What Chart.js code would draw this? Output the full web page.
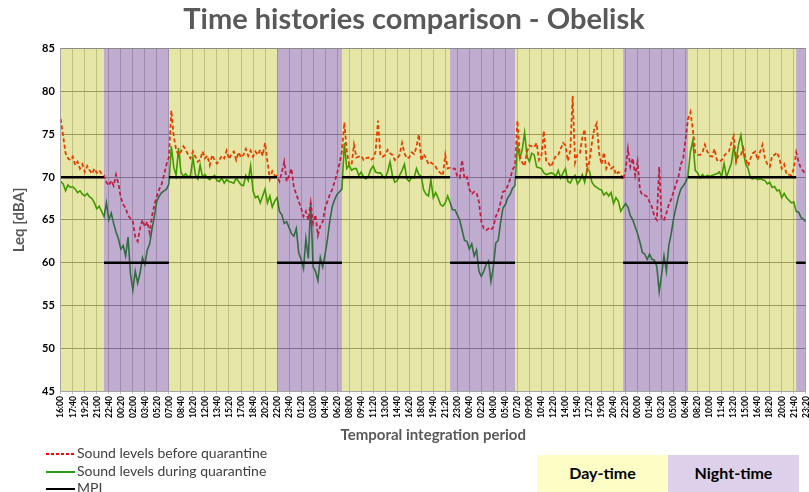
<!DOCTYPE html>
<html>
<head>
<meta charset="utf-8">
<script src="https://cdn.jsdelivr.net/npm/chart.js@4.4.1/dist/chart.umd.min.js"></script>
<style>
  html, body { margin: 0; padding: 0; background: #fff; width: 809px; height: 492px; overflow: hidden; }
  #wrap { position: absolute; left: 0; top: 0; width: 818px; height: 492px; }
  .legend { position: absolute; left: 46px; top: 444px; font-family: Lato, "Open Sans", sans-serif; font-size: 14px; color: #404040; }
  .legend div { height: 17.5px; line-height: 17.5px; white-space: nowrap; }
  .legend svg { vertical-align: middle; margin-right: 2px; }
  .box { position: absolute; top: 455px; height: 37px; width: 131px; font-family: Lato, "Open Sans", sans-serif; font-weight: bold; font-size: 16px; color: #000; text-align: center; line-height: 36px; }
</style>
</head>
<body>
<div id="wrap"><canvas id="myChart" width="818" height="492"></canvas></div>

<div class="legend">
  <div><svg width="29" height="4"><line x1="0" y1="2" x2="29" y2="2" stroke="#ff0000" stroke-width="1.8" stroke-dasharray="3 2"/></svg>Sound levels before quarantine</div>
  <div><svg width="29" height="4"><line x1="0" y1="2" x2="29" y2="2" stroke="#2a9a1a" stroke-width="2"/></svg>Sound levels during quarantine</div>
  <div><svg width="29" height="4"><line x1="0" y1="2" x2="29" y2="2" stroke="#000" stroke-width="2"/></svg>MPL</div>
</div>
<div class="box" style="left:537px;background:#fdfdc6;">Day-time</div>
<div class="box" style="left:668px;background:#ddd0ea;">Night-time</div>

<script>
// tick labels, one every 100 minutes; samples every 20 minutes
const tickLabels = [
  "16:00","17:40","19:20","21:00","22:40","00:20","02:00","03:40","05:20","07:00",
  "08:40","10:20","12:00","13:40","15:20","17:00","18:40","20:20","22:00","23:40",
  "01:20","03:00","04:40","06:20","08:00","09:40","11:20","13:00","14:40","16:20",
  "18:00","19:40","21:20","23:00","00:40","02:20","04:00","05:40","07:20","09:00",
  "10:40","12:20","14:00","15:40","17:20","19:00","20:40","22:20","00:00","01:40",
  "03:20","05:00","06:40","08:20","10:00","11:40","13:20","15:00","16:40","18:20",
  "20:00","21:40","23:20"
];
const stepMinutes = 20;
const stepsPerTick = 5;

const nightStart = "22:00";
const nightEnd = "07:00";
const MPL_DAY = 70;
const MPL_NIGHT = 60;

// Leq [dBA] before quarantine
const beforeQuarantine = [
  76.8,74.8,72.8,72.2,72.0,72.4,71.4,71.8,71.0,71.5,
  70.6,71.3,70.8,70.4,71.0,70.5,70.8,70.4,70.2,69.4,
  69.0,69.6,69.0,70.3,69.2,67.6,66.8,66.4,65.5,65.2,
  64.8,63.0,62.5,64.0,65.0,64.2,64.8,63.5,65.5,66.8,
  67.8,68.6,69.2,70.3,71.5,72.3,77.8,74.8,73.2,72.6,
  73.0,73.6,73.2,72.6,72.2,73.0,72.4,71.8,72.0,73.0,
  72.2,72.5,71.4,72.6,72.0,71.6,72.0,72.5,72.2,73.1,
  72.1,72.7,73.0,72.0,72.9,72.3,72.6,73.3,72.5,73.1,
  72.4,73.0,72.6,73.2,72.5,74.0,71.8,69.8,70.7,70.2,
  70.1,69.5,70.6,71.8,69.5,70.2,71.0,68.8,68.0,67.2,
  66.4,65.4,66.0,65.0,67.0,64.6,65.6,63.2,64.3,64.8,
  66.4,67.2,68.0,68.6,69.5,70.5,71.6,73.0,76.4,73.0,
  71.5,71.4,73.8,72.3,72.4,72.5,72.0,72.2,72.3,72.0,
  72.2,73.0,76.6,72.5,72.4,72.6,73.2,72.8,72.6,72.0,
  72.2,72.6,74.0,72.8,72.2,72.3,72.9,72.7,73.5,75.0,
  71.9,72.7,72.2,71.5,71.7,71.5,71.2,70.7,70.5,70.2,
  72.6,71.0,71.1,71.0,71.0,70.1,69.9,72.0,69.8,70.0,
  68.6,68.0,68.3,68.2,67.1,64.8,64.0,63.8,64.0,63.8,
  64.2,65.4,66.0,67.0,68.3,68.4,69.0,69.8,70.9,71.3,
  76.6,72.5,71.7,71.3,73.0,73.7,73.6,73.5,74.0,72.0,
  72.5,75.4,71.8,71.6,71.2,71.9,72.5,72.6,73.3,74.0,
  73.7,71.9,73.1,79.5,71.7,72.7,72.8,74.6,75.6,70.8,
  71.9,74.0,75.7,76.3,72.8,71.5,72.9,71.0,71.6,71.0,
  71.2,70.3,70.6,70.4,69.7,70.8,73.3,71.2,72.2,70.2,
  71.8,68.5,67.9,67.9,67.7,67.1,66.5,65.4,65.0,71.2,
  65.1,65.0,65.8,66.8,67.4,68.3,69.2,70.0,71.5,72.2,
  74.5,76.8,77.6,75.6,72.9,72.6,72.6,72.9,73.8,73.0,
  72.5,72.4,73.3,72.0,71.8,72.0,72.5,72.8,73.0,74.0,
  74.8,71.8,72.6,72.6,73.4,72.2,71.3,72.2,72.8,73.0,
  72.0,73.0,73.8,72.2,71.5,71.2,72.5,72.6,72.9,72.2,
  71.0,71.5,70.3,70.3,70.2,71.0,72.9,71.8,71.0,70.7,
  70.3
];

// Leq [dBA] during quarantine
const duringQuarantine = [
  69.5,69.2,68.4,69.1,68.8,68.9,68.6,68.2,68.4,68.0,
  67.8,68.1,67.7,67.5,67.0,66.3,66.6,66.0,65.4,67.0,
  65.0,65.8,64.6,63.6,62.8,61.6,62.0,60.8,63.0,58.7,
  56.8,59.0,57.6,58.8,60.6,59.8,61.5,62.2,64.0,65.5,
  67.2,67.8,68.2,68.4,68.6,69.2,73.6,71.2,70.2,73.4,
  70.6,70.1,70.4,70.0,70.2,72.3,70.3,69.8,71.4,70.0,
  70.3,69.9,69.7,70.0,70.2,69.6,69.5,69.9,69.3,69.7,
  69.5,69.4,69.3,69.9,69.5,69.1,69.0,70.2,69.6,71.3,
  68.4,67.6,67.8,67.0,67.8,68.6,67.0,67.8,66.5,67.2,
  67.6,66.0,65.6,64.6,64.8,64.1,63.4,63.1,64.0,61.2,
  60.4,59.3,62.8,60.5,67.0,59.5,59.0,57.9,60.6,59.5,
  61.0,62.8,65.0,66.6,67.4,68.0,68.3,68.6,74.0,71.0,
  71.4,70.8,71.0,71.0,70.2,70.6,70.0,69.8,70.1,70.9,
  71.3,70.6,70.5,70.5,70.1,69.9,70.6,71.8,70.2,69.4,
  69.6,70.2,70.8,71.5,69.8,69.5,70.0,69.9,71.0,70.3,
  70.1,68.5,68.0,67.8,69.7,67.6,68.2,67.6,66.8,66.6,
  67.0,67.8,67.0,66.2,66.2,65.6,65.0,63.8,62.6,62.5,
  61.6,62.2,60.8,61.5,59.0,58.4,59.0,59.8,60.2,57.8,
  59.5,62.3,62.6,64.7,66.4,66.8,67.6,68.0,68.7,69.0,
  73.8,72.2,73.2,75.2,72.4,71.8,72.8,72.6,71.2,71.1,
  71.0,70.5,70.3,70.4,70.5,70.4,70.1,70.8,69.9,70.5,
  71.0,69.5,69.3,69.9,70.2,69.2,69.6,70.3,69.4,70.9,
  70.7,69.4,69.0,68.8,68.6,68.5,67.9,68.2,67.8,68.2,
  66.9,67.6,67.2,66.0,66.5,66.9,66.5,65.5,65.0,64.2,
  63.4,62.4,61.2,61.0,60.4,61.0,60.4,60.3,59.6,56.6,
  58.6,60.8,59.0,62.0,63.4,65.2,66.5,67.7,68.6,69.0,
  69.4,70.2,73.0,74.3,70.8,70.5,69.9,70.3,70.0,70.2,
  70.1,70.2,70.3,70.4,70.6,70.1,71.6,70.0,70.8,71.6,
  73.6,71.9,73.8,74.9,72.9,71.5,71.0,69.9,69.8,69.9,
  69.7,69.8,69.7,69.6,69.2,69.4,68.8,68.9,68.4,68.5,
  67.6,68.1,67.6,67.3,67.0,67.1,66.0,65.9,65.3,65.1,
  64.8
];

const DAY_FILL = "rgba(184, 184, 0, 0.35)";
const NIGHT_FILL = "rgba(113, 70, 148, 0.45)";

const toMin = (s) => { const [h, m] = s.split(":").map(Number); return h * 60 + m; };
const N = beforeQuarantine.length;
const startMin = toMin(tickLabels[0]);
const isNight = (i) => {
  const m = (startMin + i * stepMinutes) % 1440;
  return m >= toMin(nightStart) || m < toMin(nightEnd);
};

// day / night periods in sample units
const periods = [];
let from = 0;
for (let i = 1; i <= N; i++) {
  if (i === N || isNight(i) !== isNight(i - 1)) {
    periods.push({ from: from, to: Math.min(i, N - 1), night: isNight(from) });
    from = i;
  }
}

const mplDay = beforeQuarantine.map((_, i) => (!isNight(i) || (i > 0 && !isNight(i - 1))) ? MPL_DAY : null);
const mplNight = beforeQuarantine.map((_, i) => (isNight(i) || (i > 0 && isNight(i - 1))) ? MPL_NIGHT : null);
const xy = (arr) => arr.map((y, i) => ({ x: i, y: y }));

const bandsPlugin = {
  id: "bands",
  afterDatasetDraw(chart, args) {
    if (args.index !== 0) return;
    const { ctx, chartArea: a, scales: { x } } = chart;
    ctx.save();
    ctx.beginPath();
    ctx.rect(a.left, a.top, a.right - a.left, a.bottom - a.top);
    ctx.clip();
    periods.forEach((p) => {
      const x0 = x.getPixelForValue(p.from);
      const x1 = x.getPixelForValue(p.to);
      ctx.fillStyle = p.night ? NIGHT_FILL : DAY_FILL;
      ctx.fillRect(x0, a.top, x1 - x0, a.bottom - a.top);
    });
    ctx.restore();
  }
};

const ctx = document.getElementById("myChart").getContext("2d");
const myChart = new Chart(ctx, {
  type: "line",
  data: {
    datasets: [
      {
        label: "Sound levels before quarantine",
        data: xy(beforeQuarantine),
        borderColor: "#ff0000",
        borderWidth: 1.8,
        borderDash: [4, 2.5],
        pointRadius: 0,
        order: 1,
      },
      {
        label: "Sound levels during quarantine",
        data: xy(duringQuarantine),
        borderColor: "#008a00",
        borderWidth: 1.6,
        pointRadius: 0,
        order: 2,
      },
      {
        label: "MPL",
        data: xy(mplDay),
        borderColor: "#000000",
        borderWidth: 2.5,
        pointRadius: 0,
        spanGaps: false,
        order: 0,
      },
      {
        label: "MPL night",
        data: xy(mplNight),
        borderColor: "#000000",
        borderWidth: 2.5,
        pointRadius: 0,
        spanGaps: false,
        order: 0,
      },
    ],
  },
  options: {
    responsive: false,
    animation: false,
    layout: { padding: { left: 10, right: 0, top: 0, bottom: 48 } },
    plugins: {
      legend: { display: false },
      tooltip: { enabled: false },
      title: {
        display: true,
        text: "Time histories comparison - Obelisk",
        color: "#595959",
        font: { family: "Lato", size: 29, weight: "bold" },
        padding: { top: 2, bottom: 12 },
      },
    },
    scales: {
      x: {
        type: "linear",
        min: 0,
        max: N - 1,
        ticks: {
          stepSize: stepsPerTick,
          autoSkip: false,
          minRotation: 90,
          maxRotation: 90,
          color: "#000",
          padding: 2,
          font: { family: "Lato", size: 8.5, weight: "bold" },
          callback: (v) => tickLabels[Math.round(v / stepsPerTick)],
        },
        grid: { color: "#c4c4c4", tickLength: 3 },
        border: { color: "#a6a6a6" },
        title: {
          display: true,
          text: "Temporal integration period",
          color: "#595959",
          font: { family: "Lato", size: 15, weight: "bold" },
          padding: { top: 6, bottom: 0 },
        },
      },
      y: {
        min: 45,
        max: 85,
        ticks: {
          stepSize: 5,
          color: "#000",
          padding: 6,
          font: { family: "Lato", size: 11, weight: "bold" },
        },
        grid: { color: "#8c8c8c", drawTicks: false },
        border: { color: "#a6a6a6" },
        title: {
          display: true,
          text: "Leq [dBA]",
          color: "#595959",
          font: { family: "Lato", size: 15, weight: "bold" },
          padding: { top: 0, bottom: 8 },
        },
      },
    },
  },
  plugins: [bandsPlugin],
});
</script>
</body>
</html>
